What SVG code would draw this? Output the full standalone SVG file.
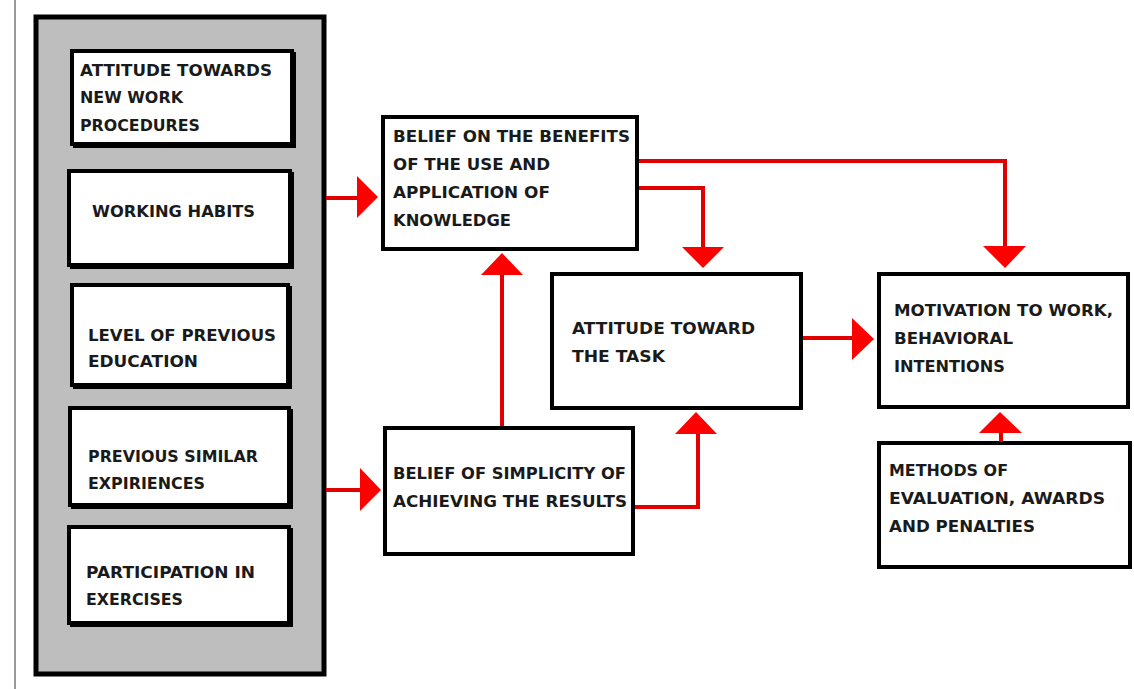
<svg xmlns="http://www.w3.org/2000/svg" width="1134" height="689" viewBox="0 0 1134 689">
<style>
.box{fill:#fff;stroke:#000;stroke-width:4}
.sh{fill:#000}
.t{font-family:"DejaVu Sans",Verdana,sans-serif;font-weight:bold;font-size:15px;fill:#1a1a1a}
.ln{fill:none;stroke:#e00000;stroke-width:4}
.hd{fill:#ff0000}
</style>
<rect width="1134" height="689" fill="#fff"/>
<line x1="15" y1="0" x2="15" y2="689" stroke="#777" stroke-width="1.5"/>
<g id="group-left">
<rect x="36" y="17" width="288" height="657" fill="#bebebe" stroke="#000" stroke-width="5"/>
</g>
<g id="n-attitude-procedures">
<rect class="sh" x="73" y="52" width="223" height="96"/>
<rect class="box" x="72" y="51" width="220" height="93"/>
<text class="t"><tspan x="80" y="76" textLength="192" lengthAdjust="spacingAndGlyphs">ATTITUDE TOWARDS</tspan><tspan x="80" y="103" textLength="103" lengthAdjust="spacingAndGlyphs">NEW WORK</tspan><tspan x="80" y="131" textLength="120" lengthAdjust="spacingAndGlyphs">PROCEDURES</tspan></text>
</g>
<g id="n-working-habits">
<rect class="sh" x="70" y="172" width="224" height="97"/>
<rect class="box" x="69" y="171" width="221" height="94"/>
<text class="t"><tspan x="92" y="217" textLength="163" lengthAdjust="spacingAndGlyphs">WORKING HABITS</tspan></text>
</g>
<g id="n-previous-education">
<rect class="sh" x="73" y="286" width="219" height="103"/>
<rect class="box" x="72" y="285" width="216" height="100"/>
<text class="t"><tspan x="88" y="341" textLength="188" lengthAdjust="spacingAndGlyphs">LEVEL OF PREVIOUS</tspan><tspan x="88" y="367" textLength="110" lengthAdjust="spacingAndGlyphs">EDUCATION</tspan></text>
</g>
<g id="n-similar-experiences">
<rect class="sh" x="71" y="409" width="222" height="100"/>
<rect class="box" x="70" y="408" width="219" height="97"/>
<text class="t"><tspan x="88" y="462" textLength="170" lengthAdjust="spacingAndGlyphs">PREVIOUS SIMILAR</tspan><tspan x="88" y="489" textLength="117" lengthAdjust="spacingAndGlyphs">EXPIRIENCES</tspan></text>
</g>
<g id="n-participation">
<rect class="sh" x="70" y="528" width="223" height="99"/>
<rect class="box" x="69" y="527" width="220" height="96"/>
<text class="t"><tspan x="86" y="578" textLength="169" lengthAdjust="spacingAndGlyphs">PARTICIPATION IN</tspan><tspan x="86" y="605" textLength="97" lengthAdjust="spacingAndGlyphs">EXERCISES</tspan></text>
</g>
<g id="n-belief-benefits">
<rect class="box" x="383" y="117" width="254" height="132" stroke-width="5"/>
<text class="t"><tspan x="393" y="142" textLength="237" lengthAdjust="spacingAndGlyphs">BELIEF ON THE BENEFITS</tspan><tspan x="393" y="170" textLength="157" lengthAdjust="spacingAndGlyphs">OF THE USE AND</tspan><tspan x="393" y="198" textLength="157" lengthAdjust="spacingAndGlyphs">APPLICATION OF</tspan><tspan x="393" y="226" textLength="118" lengthAdjust="spacingAndGlyphs">KNOWLEDGE</tspan></text>
</g>
<g id="n-belief-simplicity">
<rect class="box" x="385" y="428" width="248" height="126" stroke-width="5"/>
<text class="t"><tspan x="393" y="479" textLength="233" lengthAdjust="spacingAndGlyphs">BELIEF OF SIMPLICITY OF</tspan><tspan x="393" y="507" textLength="234" lengthAdjust="spacingAndGlyphs">ACHIEVING THE RESULTS</tspan></text>
</g>
<g id="n-attitude-task">
<rect class="box" x="552" y="274" width="249" height="134" stroke-width="5"/>
<text class="t"><tspan x="572" y="334" textLength="183" lengthAdjust="spacingAndGlyphs">ATTITUDE TOWARD</tspan><tspan x="572" y="362" textLength="93" lengthAdjust="spacingAndGlyphs">THE TASK</tspan></text>
</g>
<g id="n-motivation">
<rect class="box" x="879" y="274" width="249" height="133" stroke-width="5"/>
<text class="t"><tspan x="894" y="316" textLength="219" lengthAdjust="spacingAndGlyphs">MOTIVATION TO WORK,</tspan><tspan x="894" y="344" textLength="119" lengthAdjust="spacingAndGlyphs">BEHAVIORAL</tspan><tspan x="894" y="372" textLength="111" lengthAdjust="spacingAndGlyphs">INTENTIONS</tspan></text>
</g>
<g id="n-methods">
<rect class="box" x="879" y="443" width="251" height="124" stroke-width="5"/>
<text class="t"><tspan x="889" y="476" textLength="119" lengthAdjust="spacingAndGlyphs">METHODS OF</tspan><tspan x="889" y="504" textLength="216" lengthAdjust="spacingAndGlyphs">EVALUATION, AWARDS</tspan><tspan x="889" y="532" textLength="146" lengthAdjust="spacingAndGlyphs">AND PENALTIES</tspan></text>
</g>
<g id="connectors">
<line class="ln" x1="326" y1="198" x2="358" y2="198"/>
<polygon class="hd" points="357,176 378,197 357,218"/>
<line class="ln" x1="326" y1="490" x2="361" y2="490"/>
<polygon class="hd" points="360,468 381,490 360,511"/>
<polyline class="ln" points="639,161 1005,161 1005,247"/>
<polygon class="hd" points="983,246 1026,246 1005,268"/>
<polyline class="ln" points="639,188 703,188 703,248"/>
<polygon class="hd" points="682,247 724,247 703,268"/>
<line class="ln" x1="502" y1="426" x2="502" y2="273"/>
<polygon class="hd" points="481,275 523,275 502,253"/>
<polyline class="ln" points="635,507 698,507 698,432"/>
<polygon class="hd" points="675,434 717,434 696,412"/>
<line class="ln" x1="803" y1="338" x2="853" y2="338"/>
<polygon class="hd" points="852,318 874,339 852,360"/>
<line class="ln" x1="1001" y1="442" x2="1001" y2="432"/>
<polygon class="hd" points="979,433 1022,433 1000,412"/>
</g>
</svg>
